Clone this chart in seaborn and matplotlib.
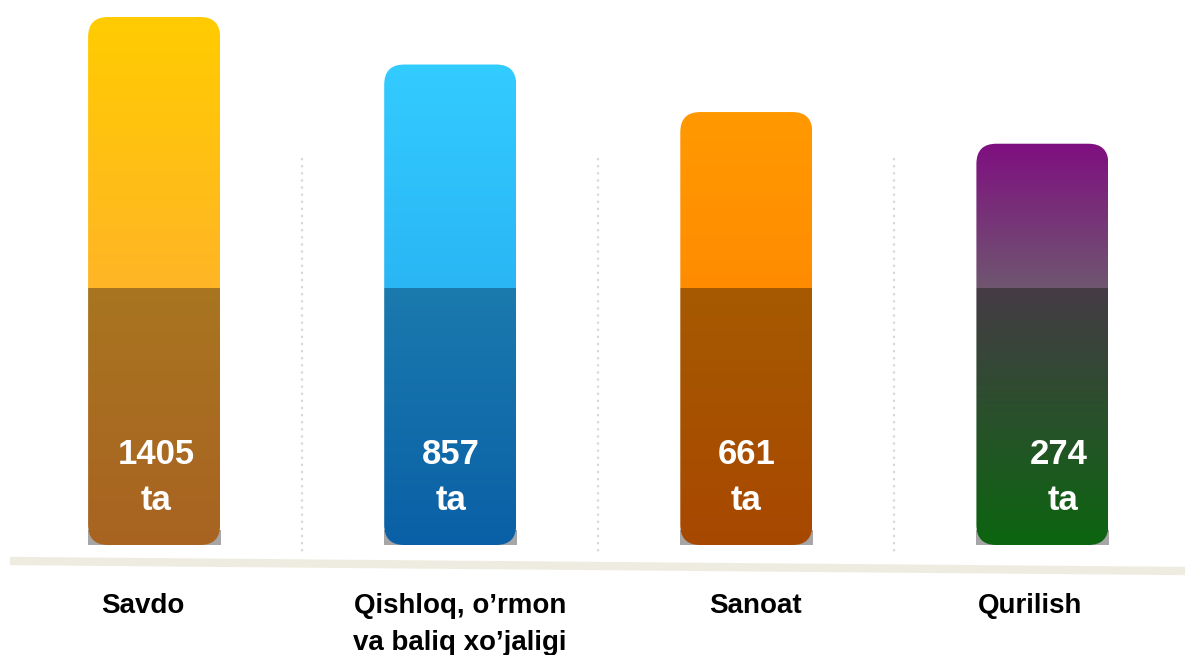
import numpy as np
import matplotlib
matplotlib.use("Agg")
import matplotlib.pyplot as plt
import matplotlib.colors as mcolors
from matplotlib.patches import FancyBboxPatch, Rectangle
import seaborn as sns

# chart data
sectors = ["Savdo", "Qishloq, o\u2019rmon\nva baliq xo\u2019jaligi", "Sanoat", "Qurilish"]
counts = [1405, 857, 661, 274]
# bar heights as drawn in the picture (tallest = 100), not proportional to counts
bar_levels = [100, 91, 82, 76]

# gradient colours per bar: top, just above the split, just below the split, bottom
top_cols = ["#FFCC00", "#33CCFF", "#FF9900", "#7F0F80"]
upper_cols = ["#FFB526", "#2AB6F5", "#FF8C00", "#6F5670"]
lower_cols = ["#A87520", "#1B7AAE", "#A65A00", "#463B46"]
bottom_cols = ["#A86322", "#0A60A6", "#A84800", "#0C6510"]

sns.set_theme(style="white")
plt.rcParams["font.family"] = ["Liberation Sans", "DejaVu Sans"]

W, H = 1185, 655
fig = plt.figure(figsize=(W / 100, H / 100), dpi=100)
ax = fig.add_axes([0, 0, 1, 1])

# pixel layout of the picture
px_per_cat = 296.1
x0_px = 154.1
base_px = 545
px_per_level = 5.28

sns.barplot(x=list(range(len(sectors))), y=bar_levels, ax=ax, width=132 / px_per_cat,
            color="white", alpha=0, native_scale=False)

ax.set_xlim(-x0_px / px_per_cat, (W - x0_px) / px_per_cat)
ax.set_ylim(-(H - base_px) / px_per_level, base_px / px_per_level)
ax.axis("off")

split_level = (base_px - 288) / px_per_level
radius_x = 20 / px_per_cat
aspect = px_per_cat / px_per_level

for i, bar in enumerate(list(ax.patches)):
    bx, bw, bh = bar.get_x(), bar.get_width(), bar.get_height()
    bar.set_visible(False)

    # grey shadow under the rounded bottom corners
    ax.add_patch(Rectangle((bx, 0), bw + 1 / px_per_cat, 15 / px_per_level,
                           color="#A6A6A6", zorder=1, lw=0))

    shape = FancyBboxPatch((bx, 0), bw, bh,
                           boxstyle=f"round,pad=0,rounding_size={radius_x}",
                           mutation_aspect=aspect, facecolor="none", edgecolor="none", zorder=2)
    ax.add_patch(shape)

    n = 600
    lv = np.linspace(0, bh, n)
    tc, uc = np.array(mcolors.to_rgb(top_cols[i])), np.array(mcolors.to_rgb(upper_cols[i]))
    lc, bc = np.array(mcolors.to_rgb(lower_cols[i])), np.array(mcolors.to_rgb(bottom_cols[i]))
    img = np.zeros((n, 1, 3))
    for k, v in enumerate(lv):
        if v < split_level:
            t = v / split_level
            img[k, 0] = bc + (lc - bc) * t
        else:
            t = (v - split_level) / (bh - split_level)
            img[k, 0] = uc + (tc - uc) * t
    im = ax.imshow(img, extent=[bx, bx + bw, 0, bh], origin="lower", aspect="auto",
                   interpolation="nearest", zorder=2)
    im.set_clip_path(shape)

# value labels inside the bars
value_dx = [2, 1, 0, 16]
ta_dx = [2, 1, 0, 21]
for i, c in enumerate(counts):
    ax.text(i + value_dx[i] / px_per_cat, (base_px - 464) / px_per_level, str(c),
            ha="center", va="baseline", color="white", fontsize=25, fontweight="bold", zorder=5)
    ax.text(i + ta_dx[i] / px_per_cat, (base_px - 510) / px_per_level, "ta",
            ha="center", va="baseline", color="white", fontsize=25, fontweight="bold", zorder=5)

# sector names under the base line
label_dx = [-11, 10, 9, -12]
for i, s in enumerate(sectors):
    ax.text(i + label_dx[i] / px_per_cat, (base_px - 593) / px_per_level, s,
            ha="center", va="top", color="black", fontsize=20, fontweight="bold",
            linespacing=1.55, zorder=5)

# dotted separators between sectors
for i in range(len(sectors) - 1):
    ax.plot([i + 0.5, i + 0.5], [(base_px - 158) / px_per_level, (base_px - 556) / px_per_level],
            color="#D9D9D4", lw=1.6, ls=(0, (1, 2.2)), zorder=0)

# slanted base line
ax.plot([10 / W, 1], [1 - 561 / H, 1 - 571 / H], transform=ax.transAxes,
        color="#EEECE1", lw=6, solid_capstyle="butt", zorder=0)

fig.savefig("out.png", dpi=100)
